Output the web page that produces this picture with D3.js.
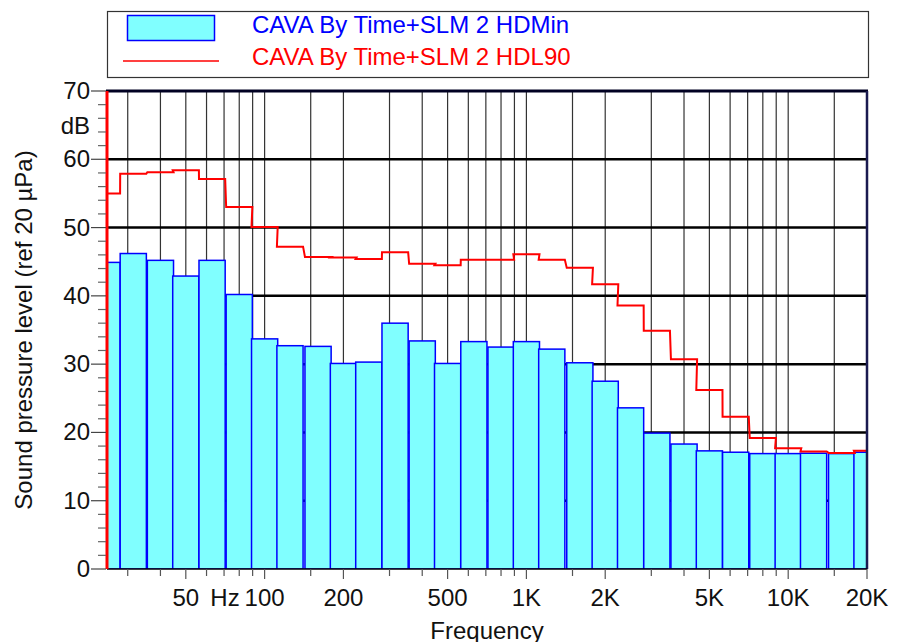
<!DOCTYPE html>
<html>
<head>
<meta charset="utf-8">
<script src="https://d3js.org/d3.v7.min.js"></script>
<style>
  body { margin: 0; background: #fff; }
  text { font-family: "Liberation Sans", Arial, sans-serif; }
</style>
</head>
<body>
<div id="chart"></div>
<script>
// 1/3 octave band centres (nominal, Hz)
var bands = [25, 31.5, 40, 50, 63, 80, 100, 125, 160, 200, 250, 315, 400, 500, 630, 800,
             1000, 1250, 1600, 2000, 2500, 3150, 4000, 5000, 6300, 8000, 10000, 12500, 16000, 20000];
// HDMin (bars), dB
var hdMin = [44.9, 46.2, 45.2, 42.9, 45.2, 40.2, 33.7, 32.7, 32.6, 30.1, 30.3, 36.0, 33.4, 30.1, 33.3, 32.5,
             33.3, 32.2, 30.2, 27.5, 23.6, 19.9, 18.3, 17.3, 17.1, 16.9, 16.9, 16.95, 16.9, 17.1];
// HDL90 (step line), dB
var hdL90 = [55.0, 57.9, 58.1, 58.4, 57.1, 53.0, 50.1, 47.2, 45.7, 45.6, 45.4, 46.4, 44.7, 44.5, 45.3, 45.3,
             46.1, 45.3, 44.1, 41.7, 38.6, 34.9, 30.7, 26.2, 22.3, 19.2, 17.7, 17.2, 17.0, 17.3];
// axis ticks
var gridFreqs = [30, 40, 50, 60, 70, 80, 90, 100, 150, 200, 300, 400, 500, 600, 700, 800, 900,
                 1000, 1500, 2000, 3000, 4000, 5000, 6000, 7000, 8000, 9000, 10000, 15000, 20000];
var freqLabels = [[50, "50"], [100, "100"], [200, "200"], [500, "500"], [1000, "1K"], [2000, "2K"],
                  [5000, "5K"], [10000, "10K"], [20000, "20K"]];
var dbTicks = [0, 10, 20, 30, 40, 50, 60, 70];

drawChart();

function drawChart() {
    var W = 906, H = 642;
    var pLeft = 107, pRight = 867, pTop = 91, pBottom = 569;
    var fs = 24;

    var svg = d3.select("#chart").append("svg")
        .attr("width", W)
        .attr("height", H);

    var x = d3.scaleLog().domain([25, 20000]).range([pLeft, pRight]);
    var y = d3.scaleLinear().domain([0, 70]).range([pBottom, pTop]);

    var half = Math.pow(10, 0.05); // third-octave half width

    svg.append("clipPath").attr("id", "plotclip")
        .append("rect")
        .attr("x", pLeft).attr("y", pTop - 2)
        .attr("width", pRight - pLeft).attr("height", pBottom - pTop + 2);

    // legend box
    svg.append("rect")
        .attr("x", 107.5).attr("y", 11.5)
        .attr("width", 761).attr("height", 66)
        .attr("fill", "#fff")
        .attr("stroke", "#333")
        .attr("stroke-width", 1.2);
    svg.append("rect")
        .attr("x", 127.5).attr("y", 15.5)
        .attr("width", 87).attr("height", 25)
        .attr("fill", "#80ffff")
        .attr("stroke", "#0000ff")
        .attr("stroke-width", 1.5);
    svg.append("line")
        .attr("x1", 123).attr("x2", 219)
        .attr("y1", 61).attr("y2", 61)
        .attr("stroke", "#ff0000")
        .attr("stroke-width", 1.5);
    svg.append("text")
        .attr("x", 252).attr("y", 33)
        .attr("font-size", fs)
        .attr("fill", "#0000ff")
        .text("CAVA By Time+SLM 2 HDMin");
    svg.append("text")
        .attr("x", 252).attr("y", 65)
        .attr("font-size", fs)
        .attr("fill", "#ff0000")
        .text("CAVA By Time+SLM 2 HDL90");

    // vertical grid lines
    svg.selectAll(".vgrid")
        .data(gridFreqs)
        .enter()
        .append("line")
        .attr("class", "vgrid")
        .attr("x1", function(d) { return x(d); })
        .attr("x2", function(d) { return x(d); })
        .attr("y1", pTop).attr("y2", pBottom)
        .attr("stroke", "#333")
        .attr("stroke-width", 1.2);

    // horizontal grid lines
    svg.selectAll(".hgrid")
        .data(dbTicks.filter(function(d) { return d > 0 && d < 70; }))
        .enter()
        .append("line")
        .attr("class", "hgrid")
        .attr("x1", pLeft).attr("x2", pRight)
        .attr("y1", function(d) { return y(d); })
        .attr("y2", function(d) { return y(d); })
        .attr("stroke", "#000")
        .attr("stroke-width", 2.5);

    var plot = svg.append("g").attr("clip-path", "url(#plotclip)");

    // bars
    plot.selectAll(".bar")
        .data(bands)
        .enter()
        .append("rect")
        .attr("class", "bar")
        .attr("x", function(d) { return x(d / half); })
        .attr("width", function(d) { return x(d * half) - x(d / half); })
        .attr("y", function(d, i) { return y(hdMin[i]); })
        .attr("height", function(d, i) { return y(0) - y(hdMin[i]); })
        .attr("fill", "#80ffff")
        .attr("stroke", "#0000ff")
        .attr("stroke-width", 1.5);

    // L90 step line
    var steps = [];
    bands.forEach(function(f, i) {
        steps.push([f / half, hdL90[i]]);
        steps.push([f * half, hdL90[i]]);
    });
    var stepLine = d3.line()
        .x(function(d) { return x(d[0]); })
        .y(function(d) { return y(d[1]); });
    plot.append("path")
        .datum(steps)
        .attr("fill", "none")
        .attr("stroke", "#ff0000")
        .attr("stroke-width", 2)
        .attr("d", stepLine);

    // frame
    svg.append("line")
        .attr("x1", pLeft - 1).attr("x2", pRight + 1)
        .attr("y1", pTop).attr("y2", pTop)
        .attr("stroke", "#000022").attr("stroke-width", 3);
    svg.append("line")
        .attr("x1", pRight).attr("x2", pRight)
        .attr("y1", pTop).attr("y2", pBottom)
        .attr("stroke", "#1a1a50").attr("stroke-width", 2.5);
    svg.append("line")
        .attr("x1", pLeft).attr("x2", pRight)
        .attr("y1", pBottom).attr("y2", pBottom)
        .attr("stroke", "#000").attr("stroke-width", 1.5);
    svg.append("line")
        .attr("x1", pLeft).attr("x2", pLeft)
        .attr("y1", pTop).attr("y2", pBottom)
        .attr("stroke", "#ff0000").attr("stroke-width", 3);

    // y ticks
    svg.selectAll(".ymin")
        .data(d3.range(0, 71, 2).filter(function(d) { return d % 10 != 0; }))
        .enter()
        .append("line")
        .attr("x1", 98).attr("x2", pLeft - 1)
        .attr("y1", function(d) { return y(d); })
        .attr("y2", function(d) { return y(d); })
        .attr("stroke", "#666").attr("stroke-width", 1.2);
    svg.selectAll(".ymaj")
        .data(dbTicks)
        .enter()
        .append("line")
        .attr("x1", 91).attr("x2", pLeft - 1)
        .attr("y1", function(d) { return y(d); })
        .attr("y2", function(d) { return y(d); })
        .attr("stroke", "#444").attr("stroke-width", 1.2);
    svg.selectAll(".ylab")
        .data(dbTicks)
        .enter()
        .append("text")
        .attr("x", 90)
        .attr("y", function(d) { return y(d) + 8; })
        .attr("text-anchor", "end")
        .attr("font-size", fs)
        .attr("fill", "#111")
        .text(function(d) { return d; });
    svg.append("text")
        .attr("x", 90).attr("y", 134)
        .attr("text-anchor", "end")
        .attr("font-size", fs)
        .attr("fill", "#111")
        .text("dB");

    // x ticks
    var labelled = freqLabels.map(function(d) { return d[0]; });
    svg.selectAll(".xtick")
        .data(gridFreqs)
        .enter()
        .append("line")
        .attr("x1", function(d) { return x(d); })
        .attr("x2", function(d) { return x(d); })
        .attr("y1", pBottom)
        .attr("y2", function(d) { return pBottom + (labelled.indexOf(d) >= 0 ? 10 : 7); })
        .attr("stroke", "#555").attr("stroke-width", 1.2);
    svg.selectAll(".xlab")
        .data(freqLabels)
        .enter()
        .append("text")
        .attr("x", function(d) { return x(d[0]); })
        .attr("y", 606)
        .attr("text-anchor", "middle")
        .attr("font-size", fs)
        .attr("fill", "#111")
        .text(function(d) { return d[1]; });
    svg.append("text")
        .attr("x", 225).attr("y", 606)
        .attr("text-anchor", "middle")
        .attr("font-size", fs)
        .attr("fill", "#111")
        .text("Hz");

    // axis titles
    svg.append("text")
        .attr("x", (pLeft + pRight) / 2).attr("y", 639)
        .attr("text-anchor", "middle")
        .attr("font-size", fs)
        .attr("fill", "#111")
        .text("Frequency");
    svg.append("text")
        .attr("transform", "translate(32," + ((pTop + pBottom) / 2) + ") rotate(-90)")
        .attr("text-anchor", "middle")
        .attr("font-size", fs)
        .attr("fill", "#111")
        .text("Sound pressure level (ref 20 µPa)");
}
</script>
</body>
</html>
